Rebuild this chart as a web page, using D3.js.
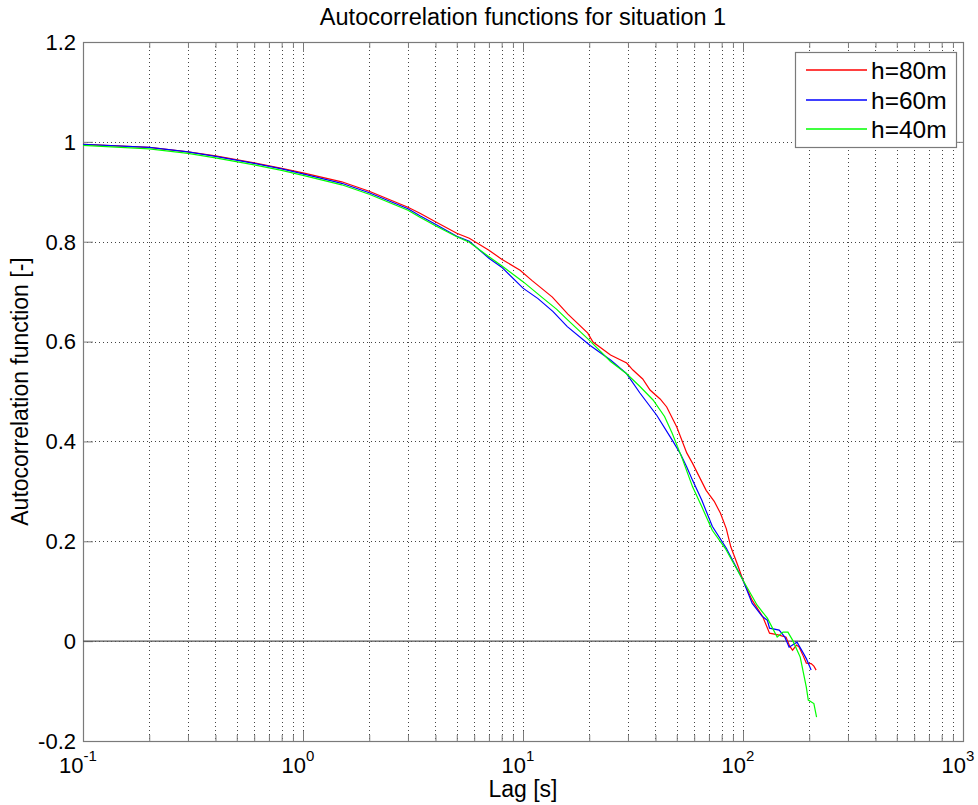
<!DOCTYPE html>
<html>
<head>
<meta charset="utf-8">
<script src="https://cdn.jsdelivr.net/npm/d3@7"></script>
<style>
  body { margin: 0; background: #fff; }
  svg { display: block; font-family: "Liberation Sans", Arial, sans-serif; }
</style>
</head>
<body>
<svg id="chart" width="978" height="805"></svg>
<script>
// values
const redLag = [0.1,0.2,0.3,0.4,0.6,0.8,1,1.5,2,3,3.4,4,5,5.7,7,8,9.7,11,13.6,16,19.7,20.8,25,29.6,31.6,35,37.8,42,45,50,55.5,59,64,68,74,79,84,88,95,100,110,123,132,146,157,163,168,175,180,188,194,204,210,215];
const redAcf = [0.995,0.989,0.980,0.972,0.958,0.947,0.938,0.920,0.901,0.869,0.857,0.840,0.817,0.807,0.783,0.765,0.743,0.722,0.689,0.655,0.617,0.599,0.573,0.557,0.543,0.525,0.503,0.485,0.469,0.429,0.377,0.356,0.325,0.302,0.280,0.256,0.225,0.189,0.150,0.122,0.082,0.049,0.016,0.012,0.008,-0.010,-0.018,-0.008,-0.012,-0.030,-0.044,-0.045,-0.050,-0.058];

const blueLag = [0.1,0.2,0.3,0.4,0.6,0.8,1,1.5,2,3,3.4,4,5,5.7,7,8,10,11.7,13.7,15.9,20.2,25,29.5,34,40.6,47.6,52,55.5,59,65,72.5,84,100,110,122,129,132,146,155,162,176,188,194,204];
const blueAcf = [0.995,0.989,0.980,0.971,0.957,0.946,0.936,0.917,0.898,0.866,0.852,0.835,0.811,0.801,0.767,0.749,0.707,0.686,0.660,0.630,0.592,0.563,0.536,0.497,0.452,0.403,0.375,0.349,0.322,0.282,0.230,0.186,0.122,0.076,0.050,0.042,0.026,0.022,0.008,-0.012,-0.002,-0.024,-0.035,-0.058];

const greenLag = [0.1,0.2,0.3,0.4,0.6,0.8,1,1.5,2,3,3.4,4,5,5.7,7,8,10,12.4,14.2,16,20,25,29.5,34,39,44,47.6,53,59,65,72.5,83,100,116,129,143,152,160,168,182,194,198,210,216];
const greenAcf = [0.993,0.986,0.977,0.968,0.954,0.943,0.933,0.914,0.895,0.863,0.849,0.832,0.810,0.799,0.770,0.752,0.720,0.686,0.665,0.643,0.603,0.560,0.536,0.510,0.483,0.450,0.417,0.365,0.309,0.269,0.222,0.186,0.122,0.072,0.046,0.008,0.018,0.018,0.002,-0.032,-0.092,-0.118,-0.125,-0.152];

const zeroLag = [0.1, 217];
const zeroAcf = [0, 0];

const seriesNames = ["h=80m", "h=60m", "h=40m"];
const seriesColors = ["#ff0000", "#0000ff", "#00ff00"];

const xMajor = [-1, 0, 1, 2, 3];            // exponents of 10
const yTicks = [-0.2, 0, 0.2, 0.4, 0.6, 0.8, 1, 1.2];
const yTickLabels = ["-0.2", "0", "0.2", "0.4", "0.6", "0.8", "1", "1.2"];

(() => {
  const axisGray = "#7a7a7a";
  const gridGray = "#444";

  const svg = d3.select("#chart");
  const m = { left: 83, right: 963, top: 42, bottom: 741 };

  const x = d3.scaleLog().domain([0.1, 1000]).range([m.left, m.right]);
  const y = d3.scaleLinear().domain([-0.2, 1.2]).range([m.bottom, m.top]);

  const majorVals = xMajor.map((e) => Math.pow(10, e));
  const minorVals = [];
  xMajor.slice(0, -1).forEach((e) => {
    for (let k = 2; k <= 9; k++) minorVals.push(k * Math.pow(10, e));
  });

  svg.append("rect").attr("width", 978).attr("height", 805).attr("fill", "#fff");

  // grid
  const grid = svg.append("g").attr("stroke", gridGray).attr("stroke-width", 1).attr("stroke-dasharray", "1,3");
  grid.selectAll("line.vx")
    .data(majorVals.concat(minorVals).filter((v) => v > 0.1 && v < 1000))
    .join("line")
    .attr("x1", (d) => Math.round(x(d)) + 0.5)
    .attr("x2", (d) => Math.round(x(d)) + 0.5)
    .attr("y1", m.top)
    .attr("y2", m.bottom);
  grid.selectAll("line.hy")
    .data(yTicks.filter((v) => v > -0.2 && v < 1.2))
    .join("line")
    .attr("x1", m.left)
    .attr("x2", m.right)
    .attr("y1", (d) => Math.round(y(d)) + 0.5)
    .attr("y2", (d) => Math.round(y(d)) + 0.5);

  // axes box with inward ticks on all sides
  function styleAxis(g) {
    g.select(".domain").remove();
    g.selectAll(".tick line").attr("stroke", axisGray);
    g.selectAll(".tick text").remove();
  }
  svg.append("g").attr("transform", `translate(0,${m.bottom})`)
    .call(d3.axisBottom(x).tickValues(majorVals).tickSize(-10)).call(styleAxis);
  svg.append("g").attr("transform", `translate(0,${m.bottom})`)
    .call(d3.axisBottom(x).tickValues(minorVals).tickSize(-6)).call(styleAxis);
  svg.append("g").attr("transform", `translate(0,${m.top})`)
    .call(d3.axisTop(x).tickValues(majorVals).tickSize(-10)).call(styleAxis);
  svg.append("g").attr("transform", `translate(0,${m.top})`)
    .call(d3.axisTop(x).tickValues(minorVals).tickSize(-6)).call(styleAxis);
  svg.append("g").attr("transform", `translate(${m.left},0)`)
    .call(d3.axisLeft(y).tickValues(yTicks).tickSize(-10)).call(styleAxis);
  svg.append("g").attr("transform", `translate(${m.right},0)`)
    .call(d3.axisRight(y).tickValues(yTicks).tickSize(-10)).call(styleAxis);

  svg.append("rect")
    .attr("x", m.left + 0.5).attr("y", m.top + 0.5)
    .attr("width", m.right - m.left).attr("height", m.bottom - m.top)
    .attr("fill", "none").attr("stroke", axisGray).attr("stroke-width", 1.2);

  // tick labels
  svg.append("g").selectAll("text")
    .data(yTicks)
    .join("text")
    .attr("x", m.left - 7)
    .attr("y", (d) => y(d))
    .attr("dy", "0.36em")
    .attr("text-anchor", "end")
    .attr("font-size", 22)
    .text((d, i) => yTickLabels[i]);

  const xl = svg.append("g").selectAll("text")
    .data(xMajor)
    .join("text")
    .attr("x", (d) => x(Math.pow(10, d)) - 5)
    .attr("y", 773)
    .attr("text-anchor", "middle")
    .attr("font-size", 22);
  xl.append("tspan").text("10");
  xl.append("tspan").attr("dy", -12).attr("font-size", 15).text((d) => d);

  // axis labels and title
  svg.append("text")
    .attr("x", (m.left + m.right) / 2)
    .attr("y", 797)
    .attr("text-anchor", "middle")
    .attr("font-size", 23)
    .text("Lag [s]");
  svg.append("text")
    .attr("transform", `translate(28,${(m.top + m.bottom) / 2}) rotate(-90)`)
    .attr("text-anchor", "middle")
    .attr("font-size", 23)
    .text("Autocorrelation function [-]");
  svg.append("text")
    .attr("x", (m.left + m.right) / 2)
    .attr("y", 25)
    .attr("text-anchor", "middle")
    .attr("font-size", 23.5)
    .text("Autocorrelation functions for situation 1");

  // curves
  const line = d3.line().x((d) => x(d[0])).y((d) => y(d[1]));
  const zip = (a, b) => a.map((v, i) => [v, b[i]]);

  svg.append("path")
    .datum(zip(zeroLag, zeroAcf))
    .attr("fill", "none")
    .attr("stroke", "#555")
    .attr("stroke-width", 1.2)
    .attr("d", line);

  const series = [zip(redLag, redAcf), zip(blueLag, blueAcf), zip(greenLag, greenAcf)];
  svg.append("g").selectAll("path")
    .data(series)
    .join("path")
    .attr("fill", "none")
    .attr("stroke", (d, i) => seriesColors[i])
    .attr("stroke-width", 1.2)
    .attr("d", line);

  // legend
  const lg = svg.append("g");
  lg.append("rect")
    .attr("x", 795.5).attr("y", 52.5)
    .attr("width", 161).attr("height", 95)
    .attr("fill", "#fff").attr("stroke", axisGray).attr("stroke-width", 1.2);
  const rows = lg.selectAll("g.row")
    .data(seriesNames)
    .join("g")
    .attr("transform", (d, i) => `translate(0,${[70, 100, 129][i]})`);
  rows.append("line")
    .attr("x1", 806).attr("x2", 867)
    .attr("stroke", (d, i) => seriesColors[i])
    .attr("stroke-width", 1.6);
  rows.append("text")
    .attr("x", 871)
    .attr("dy", "0.36em")
    .attr("font-size", 24.5)
    .text((d) => d);
})();
</script>
</body>
</html>
